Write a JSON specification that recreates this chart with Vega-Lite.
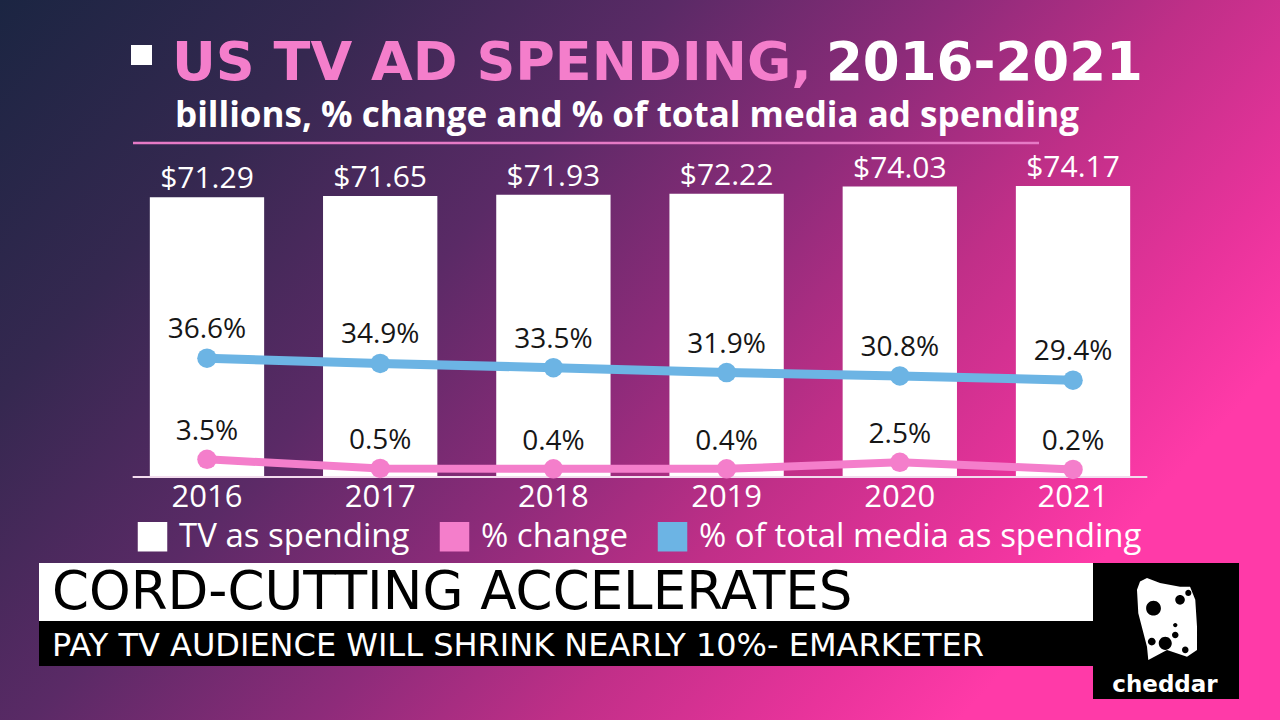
{
  "$schema": "https://vega.github.io/schema/vega-lite/v6.json",
  "width": 1280,
  "height": 720,
  "autosize": {"type": "none"},
  "padding": 0,
  "background": "#5a2a66",
  "view": {
    "stroke": null,
    "fill": {
      "gradient": "linear",
      "x1": 0, "y1": 0, "x2": 1, "y2": 0.5,
      "stops": [
        {"offset": 0, "color": "#1b2542"},
        {"offset": 0.22, "color": "#352850"},
        {"offset": 0.42, "color": "#5a2a66"},
        {"offset": 0.6, "color": "#8e2b7a"},
        {"offset": 0.75, "color": "#c02f88"},
        {"offset": 0.9, "color": "#e8339b"},
        {"offset": 1, "color": "#ff3aa8"}
      ]
    }
  },
  "config": {"font": "Open Sans"},
  "datasets": {
    "spending": [
      {"year": "2016", "spend": 71.29, "change": 0.035, "share": 0.366},
      {"year": "2017", "spend": 71.65, "change": 0.005, "share": 0.349},
      {"year": "2018", "spend": 71.93, "change": 0.004, "share": 0.335},
      {"year": "2019", "spend": 72.22, "change": 0.004, "share": 0.319},
      {"year": "2020", "spend": 74.03, "change": 0.025, "share": 0.308},
      {"year": "2021", "spend": 74.17, "change": 0.002, "share": 0.294}
    ]
  },
  "data": {"name": "spending"},
  "resolve": {"scale": {"y": "independent"}},
  "layer": [
    {
      "data": {"values": [{}]},
      "mark": {"type": "rect", "color": "white"},
      "encoding": {"x": {"value": 131}, "x2": {"value": 152}, "y": {"value": 45}, "y2": {"value": 65}}
    },
    {
      "data": {"values": [{}]},
      "mark": {"type": "text", "text": "US TV AD SPENDING,", "font": "DejaVu Sans", "fontWeight": "bold", "fontSize": 54, "color": "#f47ecb", "align": "left", "baseline": "alphabetic"},
      "encoding": {"x": {"value": 172}, "y": {"value": 80}}
    },
    {
      "data": {"values": [{}]},
      "mark": {"type": "text", "text": "2016-2021", "font": "DejaVu Sans", "fontWeight": "bold", "fontSize": 53, "color": "white", "align": "right", "baseline": "alphabetic"},
      "encoding": {"x": {"value": 1143}, "y": {"value": 80}}
    },
    {
      "data": {"values": [{}]},
      "mark": {"type": "text", "text": "billions, % change and % of total media ad spending", "font": "Open Sans", "fontWeight": "bold", "fontSize": 35, "color": "white", "align": "left", "baseline": "alphabetic"},
      "encoding": {"x": {"value": 175}, "y": {"value": 127}}
    },
    {
      "data": {"values": [{}]},
      "mark": {"type": "rule", "color": "#e67ac6", "strokeWidth": 2.5},
      "encoding": {"x": {"value": 133}, "x2": {"value": 1039}, "y": {"value": 143}}
    },
    {
      "layer": [
        {
          "mark": {"type": "bar"},
          "encoding": {
            "x": {"field": "year", "type": "ordinal", "axis": null, "scale": {"paddingInner": 0.34, "paddingOuter": 0.865}},
            "y": {"field": "spend", "type": "quantitative", "axis": null, "scale": {"domain": [-61.94, 121.58], "nice": false, "zero": false}},
            "y2": {"datum": 0},
            "color": {
              "datum": "TV as spending",
              "scale": {"domain": ["TV as spending", "% change", "% of total media as spending"], "range": ["#ffffff", "#f47ecb", "#6cb4e4"]},
              "legend": {
                "orient": "none", "legendX": 136, "legendY": 520, "direction": "horizontal", "title": null,
                "symbolType": "square", "symbolSize": 870, "symbolStrokeWidth": 0, "symbolOpacity": 1,
                "labelFont": "Open Sans", "labelFontSize": 33, "labelColor": "white", "labelOffset": 10,
                "labelLimit": 700, "columnPadding": 28, "padding": 0
              }
            }
          }
        },
        {
          "mark": {"type": "text", "font": "Open Sans", "fontSize": 30, "color": "white", "baseline": "alphabetic", "dy": -9},
          "encoding": {
            "x": {"field": "year", "type": "ordinal"},
            "y": {"field": "spend", "type": "quantitative"},
            "text": {"field": "spend", "format": "$.2f"}
          }
        },
        {
          "mark": {"type": "text", "font": "Open Sans", "fontSize": 31, "color": "white", "baseline": "alphabetic", "dy": 30},
          "encoding": {
            "x": {"field": "year", "type": "ordinal"},
            "y": {"datum": 0, "type": "quantitative"},
            "text": {"field": "year"}
          }
        },
        {
          "data": {"values": [{}]},
          "mark": {"type": "rule", "color": "#f3dcee", "strokeWidth": 1.8},
          "encoding": {
            "x": {"datum": "2016", "type": "ordinal", "bandPosition": -0.15},
            "x2": {"datum": "2021", "bandPosition": 1.15},
            "y": {"datum": 0, "type": "quantitative"}
          }
        }
      ]
    },
    {
      "layer": [
        {
          "mark": {"type": "line", "strokeWidth": 9, "point": {"filled": true, "size": 380}},
          "encoding": {
            "x": {"field": "year", "type": "ordinal"},
            "y": {"field": "share", "type": "quantitative", "axis": null, "scale": {"domain": [-0.8186, 1.539], "nice": false, "zero": false}},
            "color": {"datum": "% of total media as spending", "legend": null}
          }
        },
        {
          "mark": {"type": "line", "strokeWidth": 8, "point": {"filled": true, "size": 380}},
          "encoding": {
            "x": {"field": "year", "type": "ordinal"},
            "y": {"field": "change", "type": "quantitative"},
            "color": {"datum": "% change", "legend": null}
          }
        },
        {
          "mark": {"type": "text", "font": "Open Sans", "fontSize": 28, "color": "#161616", "baseline": "alphabetic", "dy": -20},
          "encoding": {
            "x": {"field": "year", "type": "ordinal"},
            "y": {"field": "share", "type": "quantitative"},
            "text": {"field": "share", "format": ".1%"}
          }
        },
        {
          "mark": {"type": "text", "font": "Open Sans", "fontSize": 28, "color": "#161616", "baseline": "alphabetic", "dy": -19},
          "encoding": {
            "x": {"field": "year", "type": "ordinal"},
            "y": {"field": "change", "type": "quantitative"},
            "text": {"field": "change", "format": ".1%"}
          }
        }
      ]
    },
    {
      "data": {"values": [{}]},
      "mark": {"type": "rect", "color": "white"},
      "encoding": {"x": {"value": 39}, "x2": {"value": 1094}, "y": {"value": 563}, "y2": {"value": 621}}
    },
    {
      "data": {"values": [{}]},
      "mark": {"type": "rect", "color": "black"},
      "encoding": {"x": {"value": 39}, "x2": {"value": 1094}, "y": {"value": 621}, "y2": {"value": 666}}
    },
    {
      "data": {"values": [{}]},
      "mark": {"type": "rect", "color": "black"},
      "encoding": {"x": {"value": 1093}, "x2": {"value": 1239}, "y": {"value": 563}, "y2": {"value": 699}}
    },
    {
      "data": {"values": [{}]},
      "mark": {"type": "text", "text": "CORD-CUTTING ACCELERATES", "font": "DejaVu Sans", "fontSize": 53, "color": "black", "align": "left", "baseline": "alphabetic"},
      "encoding": {"x": {"value": 52}, "y": {"value": 609}}
    },
    {
      "data": {"values": [{}]},
      "mark": {"type": "text", "text": "PAY TV AUDIENCE WILL SHRINK NEARLY 10%- EMARKETER", "font": "DejaVu Sans", "fontSize": 32, "color": "white", "align": "left", "baseline": "alphabetic"},
      "encoding": {"x": {"value": 52}, "y": {"value": 656}}
    },
    {
      "data": {"values": [{}]},
      "mark": {
        "type": "point", "filled": true, "color": "white", "opacity": 1, "size": 7569, "strokeWidth": 0,
        "shape": "M-0.69,-0.67 L-0.62,-0.86 L-0.46,-0.94 L-0.16,-0.83 L0.30,-0.74 L0.53,-0.74 L0.65,-0.44 L0.69,0.18 L0.69,0.71 L0.46,0.87 L0.0,0.71 L-0.43,0.94 L-0.46,0.64 L-0.66,-0.13 Z M-0.14,-0.25 A0.17,0.17 0 1 0 -0.48,-0.25 A0.17,0.17 0 1 0 -0.14,-0.25 Z M0.11,0.56 A0.15,0.15 0 1 0 -0.19,0.56 A0.15,0.15 0 1 0 0.11,0.56 Z M0.41,-0.44 A0.11,0.11 0 1 0 0.19,-0.44 A0.11,0.11 0 1 0 0.41,-0.44 Z M0.56,-0.6 A0.07,0.07 0 1 0 0.42,-0.6 A0.07,0.07 0 1 0 0.56,-0.6 Z M0.24,0.14 A0.05,0.05 0 1 0 0.14,0.14 A0.05,0.05 0 1 0 0.24,0.14 Z M0.265,0.37 A0.075,0.075 0 1 0 0.115,0.37 A0.075,0.075 0 1 0 0.265,0.37 Z M-0.26,0.52 A0.09,0.09 0 1 0 -0.44,0.52 A0.09,0.09 0 1 0 -0.26,0.52 Z M0.495,0.71 A0.075,0.075 0 1 0 0.345,0.71 A0.075,0.075 0 1 0 0.495,0.71 Z"
      },
      "encoding": {"x": {"value": 1167}, "y": {"value": 619}}
    },
    {
      "data": {"values": [{}]},
      "mark": {"type": "text", "text": "cheddar", "font": "DejaVu Sans", "fontWeight": "bold", "fontSize": 23, "color": "white", "align": "center", "baseline": "alphabetic"},
      "encoding": {"x": {"value": 1165}, "y": {"value": 692}}
    }
  ]
}
